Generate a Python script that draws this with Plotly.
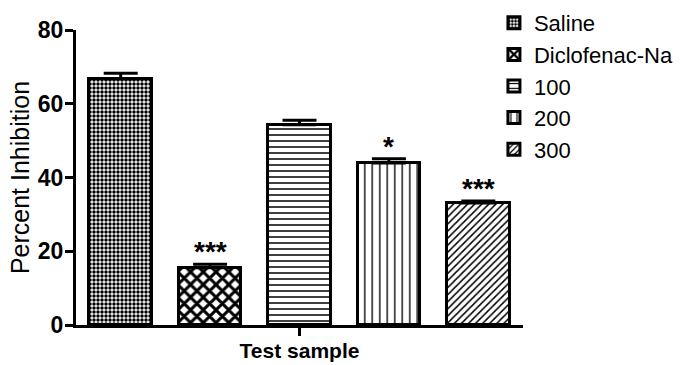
import plotly.graph_objects as go

# Percent inhibition by test sample (mean with upper SEM)
groups = ["Saline", "Diclofenac-Na", "100", "200", "300"]
inhibition = [66.8, 15.5, 54.3, 43.9, 33.1]
sem = [1.5, 1.0, 1.2, 1.2, 0.5]
significance = ["", "***", "", "*", "***"]

x_tick_label = "Test sample"
y_title = "Percent Inhibition"
y_ticks = [0, 20, 40, 60, 80]

# fill pattern per group: (shape, cell size, solidity)
patterns = [
    (".", 4, 0.6),
    ("x", 9, 0.55),
    ("-", 6, 0.25),
    ("|", 7.5, 0.18),
    ("/", 5, 0.3),
]

FONT = "Liberation Sans, Arial, sans-serif"

fig = go.Figure()
for i, (name, val, err) in enumerate(zip(groups, inhibition, sem)):
    shape, size, solid = patterns[i]
    fig.add_trace(go.Bar(
        x=[i], y=[val], name=name, width=0.7,
        legendgroup=name,
        marker=dict(
            color="white",
            line=dict(color="black", width=3),
            pattern=dict(shape=shape, size=size, solidity=solid,
                         fgcolor="black", bgcolor="white", fillmode="replace"),
        ),
        error_y=dict(type="data", symmetric=False, array=[err], arrayminus=[0],
                     color="black", thickness=3, width=17),
    ))

for i, (val, err, mark) in enumerate(zip(inhibition, sem, significance)):
    if mark:
        fig.add_annotation(x=i, y=val + err, text=mark, showarrow=False,
                           yanchor="bottom", yshift=-5,
                           font=dict(family=FONT, size=28, color="black", weight="bold"))

fig.update_layout(
    width=692, height=365,
    margin=dict(l=76, r=169, t=30, b=40, pad=0, autoexpand=False),
    paper_bgcolor="white", plot_bgcolor="white",
    showlegend=True,
    bargap=0,
    legend=dict(x=0.935, y=1.095, xanchor="left", yanchor="top",
                font=dict(family=FONT, size=22, color="black"),
                tracegroupgap=0, itemwidth=30, bgcolor="rgba(0,0,0,0)"),
    font=dict(family=FONT, color="black"),
)
fig.update_xaxes(
    range=[-0.5, 4.5], tickvals=[2], ticktext=[x_tick_label],
    ticks="outside", ticklen=8, tickwidth=3, tickcolor="black",
    tickfont=dict(family=FONT, size=21, color="black", weight="bold"),
    ticklabelstandoff=-3,
    showline=True, linecolor="black", linewidth=3, showgrid=False, zeroline=False,
    automargin=False,
)
fig.update_yaxes(
    range=[0, 80], tickvals=y_ticks,
    ticks="outside", ticklen=8, tickwidth=3, tickcolor="black",
    tickfont=dict(family=FONT, size=23, color="black", weight="bold"),
    ticklabelstandoff=-3,
    showline=True, linecolor="black", linewidth=3, showgrid=False, zeroline=False,
    automargin=False,
    title=dict(text=y_title, standoff=2, font=dict(family=FONT, size=25, color="black")),
)

fig.write_html("out.html")
